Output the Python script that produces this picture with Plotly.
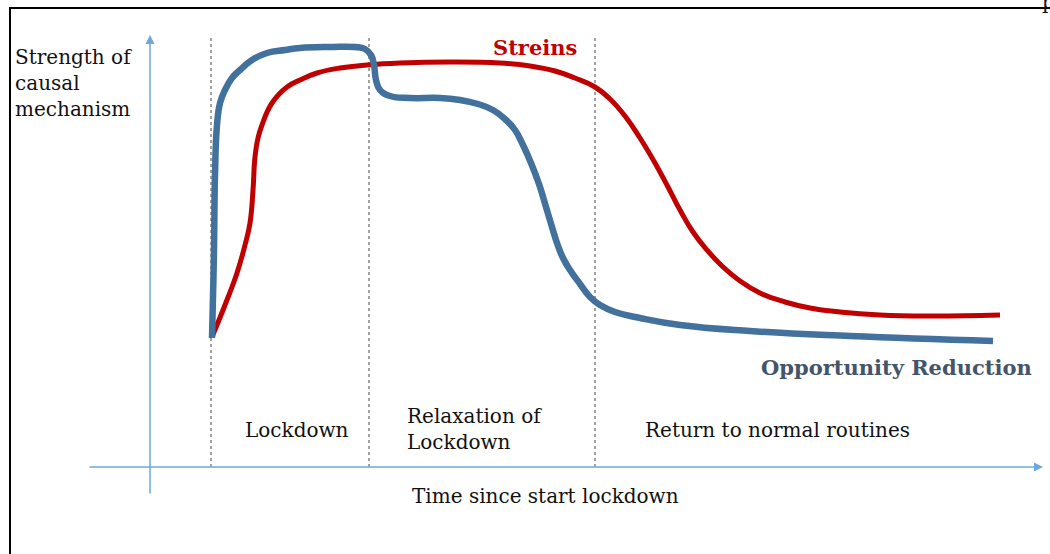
import plotly.graph_objects as go

# Data (time since start of lockdown, strength of causal mechanism) in arbitrary units
opp_time = [62, 63, 64, 65, 67, 70, 75, 82, 90, 102, 117, 135, 150, 180, 205, 215, 221, 224, 226,
            230, 240, 260, 290, 310, 328, 343, 355, 365, 373, 381, 389, 396, 402, 407, 413, 420,
            430, 440, 450, 465, 490, 530, 600, 700, 843]
opp_strength = [129, 170, 217, 292, 342, 364, 377, 389, 397, 407, 414, 417, 419, 420, 420, 418, 412,
                402, 387, 377, 371, 369, 369, 367, 363, 357, 348, 337, 322, 304, 283, 260, 240,
                224, 209, 197, 183, 170, 162, 155, 149, 142, 136, 131, 126]

strain_time = [62, 75, 87, 95, 100, 103, 105, 108, 112, 122, 137, 150, 167, 190, 217, 250, 300,
               350, 380, 405, 425, 445, 460, 475, 490, 505, 518, 530, 543, 557, 572, 590, 610,
               635, 660, 690, 730, 780, 850]
strain_strength = [130, 162, 194, 222, 244, 277, 310, 329, 342, 364, 380, 387, 394, 399, 402, 404,
                   405, 404, 401, 396, 389, 380, 368, 351, 329, 304, 280, 257, 235, 217, 201,
                   186, 174, 165, 159, 155, 152, 151, 152]

phase_bounds = [61, 219, 445]
phase_labels = ["Lockdown", "Relaxation of<br>Lockdown", "Return to normal routines"]

BLUE = "#41719C"
RED = "#C00000"
AXIS = "#6FA8DC"
FONT = "DejaVu Serif"

fig = go.Figure()

fig.add_trace(go.Scatter(x=strain_time, y=strain_strength, mode="lines",
                         line=dict(color=RED, width=5, shape="spline", smoothing=1.3),
                         hoverinfo="skip", showlegend=False))
fig.add_trace(go.Scatter(x=opp_time, y=opp_strength, mode="lines",
                         line=dict(color=BLUE, width=6.5, shape="spline", smoothing=1.3),
                         hoverinfo="skip", showlegend=False))

# phase boundaries
for b in phase_bounds:
    fig.add_shape(type="line", x0=b, x1=b, y0=0, y1=429, xref="x", yref="y",
                  line=dict(color="#444444", width=1, dash="3px,3px"), layer="below")

# axes arrows
fig.add_annotation(x=0, y=432, ax=0, ay=-28, xref="x", yref="y", axref="x", ayref="y",
                   text="", showarrow=True, arrowhead=2, arrowsize=1.2, arrowwidth=1.5,
                   arrowcolor=AXIS)
fig.add_annotation(x=893, y=0, ax=-62, ay=0, xref="x", yref="y", axref="x", ayref="y",
                   text="", showarrow=True, arrowhead=2, arrowsize=1.2, arrowwidth=1.5,
                   arrowcolor=AXIS)


def px_x(p):
    return p / 1050


def px_y(p):
    return 1 - p / 554


def label(text, x, y, xanchor="left", yanchor="top", size=19, color="#111111", bold=False, align="left"):
    if bold:
        text = "<b>" + text + "</b>"
    fig.add_annotation(x=px_x(x), y=px_y(y), xref="paper", yref="paper", text=text,
                       showarrow=False, xanchor=xanchor, yanchor=yanchor, align=align,
                       font=dict(family=FONT, size=size, color=color))


label("Strength of<br>causal<br>mechanism", 13, 43, size=20)
label("Streins", 535, 33, xanchor="center", size=21, color=RED, bold=True)
label("Opportunity Reduction", 896, 353, xanchor="center", size=21, color="#44546A", bold=True)
label(phase_labels[0], 297, 416, xanchor="center", size=20)
label(phase_labels[1], 405, 402, size=20)
label(phase_labels[2], 777, 416, xanchor="center", size=20)
label("Time since start lockdown", 545, 482, xanchor="center", size=20)
label("p", 1040, -12, size=20)

# frame
fig.add_shape(type="rect", xref="paper", yref="paper", x0=px_x(10), x1=1.02,
              y0=-0.02, y1=px_y(8), line=dict(color="black", width=2))

fig.update_layout(
    width=1050, height=554,
    margin=dict(l=0, r=0, t=0, b=0),
    paper_bgcolor="white", plot_bgcolor="white",
    xaxis=dict(range=[-150, 900], visible=False, fixedrange=True),
    yaxis=dict(range=[-87, 467], visible=False, fixedrange=True),
    showlegend=False,
)

fig.write_html("out.html", config={"displayModeBar": False},
               post_script="document.body.style.margin='0';document.body.style.overflow='hidden';")
